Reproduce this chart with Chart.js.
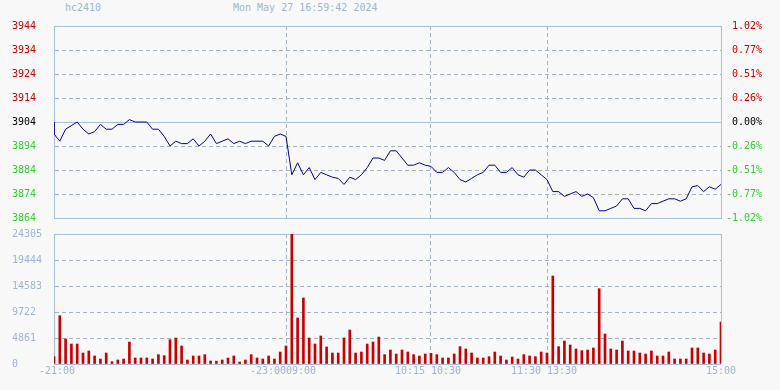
<!DOCTYPE html>
<html>
<head>
<meta charset="utf-8">
<script src="https://cdn.jsdelivr.net/npm/chart.js@4.4.1/dist/chart.umd.min.js"></script>
<style>
  html, body { margin: 0; padding: 0; background: #f8f8f8; }
  #wrap { position: relative; width: 780px; height: 390px; font: 10px 'DejaVu Sans Mono', monospace; color: #9fb4d2; }
  #wrap canvas { position: absolute; left: 0; top: 0; }
  .hd { position: absolute; top: 2px; line-height: 12px; white-space: pre; }
</style>
</head>
<body>
<div id="wrap">
  <span class="hd" style="left:65px">hc2410</span>
  <span class="hd" style="left:233px">Mon May 27 16:59:42 2024</span>
  <canvas id="price" width="780" height="390"></canvas>
  <canvas id="vol" width="780" height="390"></canvas>
</div>
<script>
// previous settle, used for the % axis and the opening point
const prevClose = 3904;
const minuteStep = 3; // one sample every 3 trading minutes

const priceTicks = [3864, 3874, 3884, 3894, 3904, 3914, 3924, 3934, 3944];
const volTicks = [0, 4861, 9722, 14583, 19444, 24305];
// trading-minute offsets of the session breaks (21:00, 23:00|09:00, 10:15|10:30, 11:30|13:30, 15:00)
const timeTicks = [0, 120, 195, 255, 345];
const timeLabels = [" -21:00", "-23:0009:00 ", "10:15 10:30 ", "11:30 13:30 ", "15:00"];

const prices = [
  3899, 3896, 3901, 3902.5, 3904, 3901, 3899, 3900, 3903, 3901,
  3901, 3903, 3903, 3905, 3904, 3904, 3904, 3901, 3901, 3898,
  3894, 3896, 3895, 3895, 3897, 3894, 3896, 3899, 3895, 3896,
  3897, 3895, 3896, 3895, 3896, 3896, 3896, 3894, 3898, 3899,
  3898, 3882, 3887, 3882, 3885, 3880, 3883, 3882, 3881, 3880.5,
  3878, 3881, 3880, 3882, 3885, 3889, 3889, 3888, 3892, 3892,
  3889, 3886, 3886, 3887, 3886, 3885.5, 3883, 3883, 3885, 3883,
  3880, 3879, 3880.5, 3882, 3883, 3886, 3886, 3883, 3883, 3885,
  3882, 3881, 3884, 3884, 3882, 3880, 3875, 3875, 3873, 3874,
  3875, 3873, 3874, 3872.5, 3867, 3867, 3868, 3869, 3872, 3872,
  3868, 3868, 3867, 3870, 3870, 3871, 3872, 3872, 3871, 3872,
  3877, 3877.5, 3875, 3877, 3876, 3878
];

const volumes = [
  1371, 9034, 4673, 3738, 3738, 2056, 2430, 1495, 935, 2056,
  436, 748, 935, 4112, 1121, 1121, 1121, 935, 1744, 1558,
  4548, 4859, 3364, 748, 1495, 1495, 1744, 561, 530, 748,
  1121, 1495, 374, 748, 1744, 1121, 935, 1495, 935, 2243,
  3364, 24305, 8597, 12335, 4859, 3738, 5233, 3177, 2056, 2056,
  4859, 6355, 2056, 2243, 3738, 4112, 5046, 1744, 2617, 1869,
  2617, 2243, 1744, 1495, 1869, 1994, 1744, 1121, 1121, 1869,
  3240, 2804, 2056, 1121, 1121, 1371, 2243, 1495, 748, 1308,
  935, 1744, 1495, 1371, 2243, 2056, 16447, 3240, 4299, 3551,
  2804, 2492, 2617, 2990, 14080, 5607, 2804, 2617, 4299, 2430,
  2430, 2056, 1869, 2430, 1495, 1495, 2243, 935, 935, 935,
  2990, 2990, 2056, 1869, 2617, 7850
];

Chart.defaults.font.family = "'DejaVu Sans Mono', monospace";
Chart.defaults.font.size = 10;
Chart.defaults.animation = false;

const solidCol = '#a8c0e0';
const dashCol = '#a3b2c6';
const labelCol = '#9fb4d2';
const dash = [4, 3];

const priceData = [{ x: 0, y: prevClose }].concat(prices.map((p, i) => ({ x: i * minuteStep, y: p })));
const volData = volumes.map((v, i) => ({ x: i * minuteStep, y: v }));

const setTicks = (list) => (scale) => { scale.ticks = list.map(v => ({ value: v })); };
const edgeOrMid = (v, list, mid) => v === list[0] || v === list[list.length - 1] || v === mid;
const plain = (v) => String(v);

// x axis shared look: solid at both ends, dashed at the session breaks
function timeAxis(showLabels) {
  return {
    type: 'linear',
    min: timeTicks[0],
    max: timeTicks[timeTicks.length - 1],
    offset: false,
    afterBuildTicks: setTicks(timeTicks),
    afterFit: (s) => { s.height = showLabels ? 26 : 0; },
    grid: {
      offset: false,
      drawTicks: false,
      color: (c) => edgeOrMid(c.tick && c.tick.value, timeTicks) ? solidCol : dashCol
    },
    border: {
      display: false,
      dash: (c) => (c.tick && !edgeOrMid(c.tick.value, timeTicks)) ? dash : []
    },
    ticks: {
      display: showLabels,
      padding: 1,
      color: labelCol,
      maxRotation: 0,
      autoSkip: false,
      callback: (v, i) => timeLabels[i]
    }
  };
}

const priceColor = (c) => {
  const v = c.tick.value;
  return v > prevClose ? '#cc0000' : (v < prevClose ? '#33cc33' : '#000000');
};

new Chart(document.getElementById('price'), {
  type: 'line',
  data: {
    datasets: [{
      data: priceData,
      borderColor: '#0000a0',
      borderWidth: 1,
      pointRadius: 0,
      tension: 0
    }]
  },
  options: {
    responsive: false,
    layout: { padding: { left: 12, top: 26, right: 0, bottom: 172 } },
    plugins: { legend: { display: false }, tooltip: { enabled: false } },
    scales: {
      x: timeAxis(false),
      y: {
        position: 'left',
        min: priceTicks[0],
        max: priceTicks[priceTicks.length - 1],
        afterBuildTicks: setTicks(priceTicks),
        afterFit: (s) => { s.width = 42; },
        grid: {
          drawTicks: false,
          color: (c) => edgeOrMid(c.tick && c.tick.value, priceTicks, prevClose) ? solidCol : dashCol
        },
        border: {
          color: solidCol,
          dash: (c) => (c.tick && !edgeOrMid(c.tick.value, priceTicks, prevClose)) ? dash : []
        },
        ticks: { crossAlign: 'far', padding: 0, color: priceColor, callback: plain }
      },
      y2: {
        position: 'right',
        min: priceTicks[0],
        max: priceTicks[priceTicks.length - 1],
        afterBuildTicks: setTicks(priceTicks),
        afterFit: (s) => { s.width = 59; },
        grid: { drawTicks: false, drawOnChartArea: false },
        border: { color: solidCol },
        ticks: {
          crossAlign: 'near',
          padding: 5,
          color: priceColor,
          callback: (v) => {
            const p = (v - prevClose) / prevClose * 100;
            return (p < 0 ? '' : ' ') + p.toFixed(2) + '%';
          }
        }
      }
    }
  }
});

new Chart(document.getElementById('vol'), {
  type: 'bar',
  data: {
    datasets: [{
      data: volData,
      backgroundColor: '#c80000',
      barThickness: 2
    }]
  },
  options: {
    responsive: false,
    layout: { padding: { left: 12, top: 234, right: 59, bottom: 0 } },
    plugins: { legend: { display: false }, tooltip: { enabled: false } },
    scales: {
      x: timeAxis(true),
      y: {
        position: 'left',
        min: volTicks[0],
        max: volTicks[volTicks.length - 1],
        afterBuildTicks: setTicks(volTicks),
        afterFit: (s) => { s.width = 42; },
        grid: {
          drawTicks: false,
          color: (c) => edgeOrMid(c.tick && c.tick.value, volTicks) ? solidCol : dashCol
        },
        border: {
          color: solidCol,
          dash: (c) => (c.tick && !edgeOrMid(c.tick.value, volTicks)) ? dash : []
        },
        ticks: { crossAlign: 'far', padding: 0, color: labelCol, callback: plain }
      }
    }
  }
});
</script>
</body>
</html>
